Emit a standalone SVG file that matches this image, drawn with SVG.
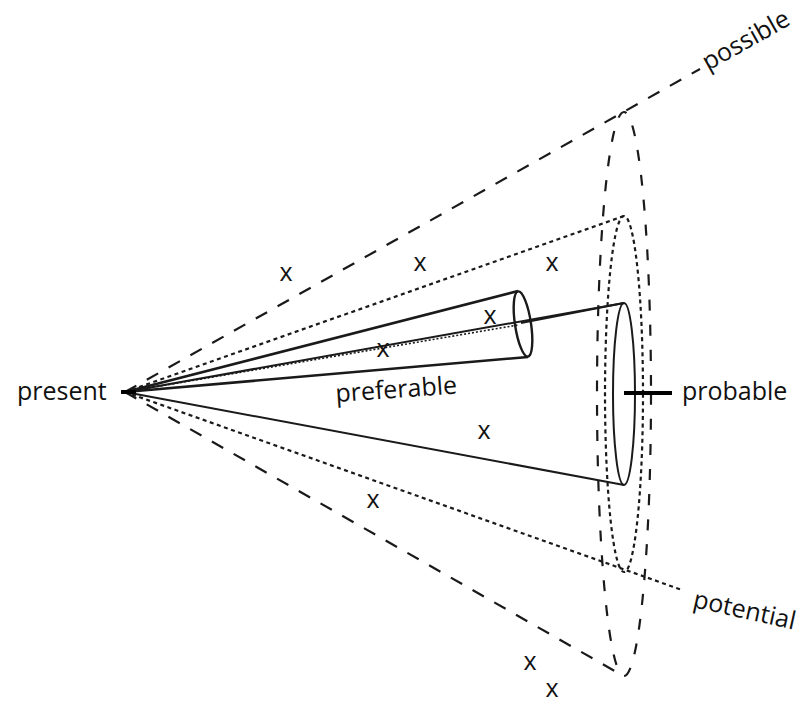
<svg xmlns="http://www.w3.org/2000/svg" width="803" height="704" viewBox="0 0 803 704">
<style>
text{font-family:"Open Sans","Noto Sans","Liberation Sans",sans-serif;font-size:25px;fill:#111}
.x{text-anchor:middle}
.dash{fill:none;stroke:#1a1a1a;stroke-width:2.2;stroke-dasharray:13 12}
.edash{fill:none;stroke:#1a1a1a;stroke-width:2.2;stroke-dasharray:11 14}
.dot{fill:none;stroke:#1a1a1a;stroke-width:2.2;stroke-dasharray:4 3.5}
.fine{fill:none;stroke:#1a1a1a;stroke-width:1.6;stroke-dasharray:2 2}
.solid{fill:none;stroke:#1a1a1a;stroke-width:2}
.thick{fill:none;stroke:#000;stroke-width:4}
</style>
<rect width="803" height="704" fill="#fff"/>
<g id="connectors">
<line class="dash" x1="125" y1="392" x2="700" y2="69"/>
<line class="dash" x1="125" y1="392" x2="620" y2="674"/>
<line class="dot" x1="125" y1="392" x2="624" y2="216"/>
<line class="dot" x1="125" y1="392" x2="682" y2="590"/>
<line class="solid" x1="125" y1="392" x2="624" y2="303"/>
<line class="solid" x1="125" y1="392" x2="624" y2="485"/>
<line class="solid" style="stroke-width:2.6" x1="125" y1="392" x2="518" y2="291"/>
<line class="solid" style="stroke-width:2.6" x1="125" y1="392" x2="528" y2="357"/>
<line class="fine" x1="125" y1="392" x2="518" y2="325"/>
<line class="solid" x1="521" y1="323" x2="624" y2="303"/>
</g>
<g id="possible">
<ellipse class="edash" cx="624" cy="394" rx="27" ry="282"/>
<text x="708" y="71" transform="rotate(-29.3 708 71)">possible</text>
</g>
<g id="potential">
<ellipse class="dot" cx="624" cy="394" rx="19" ry="178"/>
<text x="692" y="607" transform="rotate(12.5 692 607)">potential</text>
</g>
<g id="probable">
<ellipse class="solid" cx="624" cy="394" rx="11" ry="91"/>
<line class="thick" x1="624" y1="393" x2="672" y2="393"/>
<text x="682" y="400">probable</text>
</g>
<g id="preferable">
<ellipse class="solid" style="stroke-width:2.4" cx="523" cy="324" rx="8" ry="33" transform="rotate(-8.6 523 324)"/>
<text x="336" y="402" transform="rotate(-4 336 402)">preferable</text>
</g>
<g id="present">
<line class="thick" x1="121" y1="392" x2="136" y2="392"/>
<text x="17" y="400">present</text>
</g>
<g id="marks">
<text class="x" x="286" y="281">x</text>
<text class="x" x="420" y="271">x</text>
<text class="x" x="552" y="271">x</text>
<text class="x" x="490" y="324">x</text>
<text class="x" x="383" y="357">x</text>
<text class="x" x="484" y="439">x</text>
<text class="x" x="373" y="508">x</text>
<text class="x" x="530" y="670">x</text>
<text class="x" x="552" y="697">x</text>
</g>
</svg>
